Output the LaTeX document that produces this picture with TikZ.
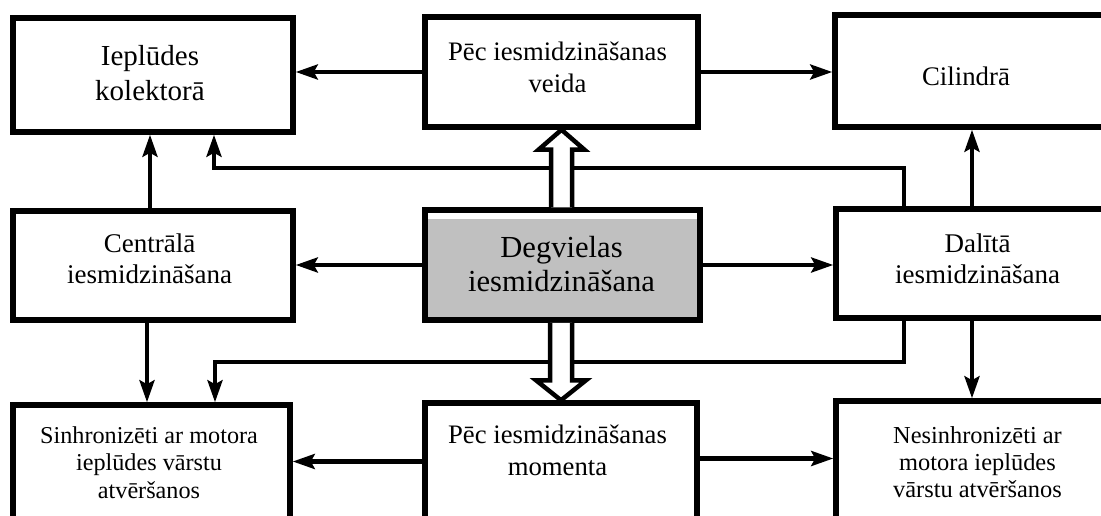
\documentclass[tikz,border=0pt]{standalone}
\usepackage{fontspec}
\setmainfont{Liberation Serif}
\usetikzlibrary{arrows.meta,calc}
\definecolor{degfill}{HTML}{C0C0C0}
\newcommand{\fs}[2]{\fontsize{#1}{#2}\selectfont}
\tikzset{
  box/.style={draw, rectangle, line width=5.5pt, fill=white, inner sep=0pt},
  lbl/.style={align=center, inner sep=0pt},
  conn/.style={line width=4.2pt, -{Stealth[length=22pt,width=15pt,inset=4pt]}},
  hollow/.style={draw, line width=4.5pt, fill=white, line join=miter},
}
\begin{document}
\begin{tikzpicture}[x=1pt, y=-1pt]
\useasboundingbox (0,0) rectangle (1101,516);
\clip (0,0) rectangle (1101,516);
\fill[white] (0,0) rectangle (1101,516);

% boxes
\node[box, minimum width=280pt, minimum height=114pt] (kol) at (153,75) {};
\node[box, minimum width=273pt, minimum height=110pt] (veida) at (561.5,72) {};
\node[box, minimum width=290pt, minimum height=112pt] (cil) at (980,71) {};
\node[box, minimum width=280pt, minimum height=109pt] (cen) at (153,265.5) {};
\node[box, minimum width=275pt, minimum height=110pt,
      path picture={\fill[degfill] ($(path picture bounding box.north west)+(0,8.5)$)
                     rectangle (path picture bounding box.south east);}] (deg) at (562.5,265) {};
\node[box, minimum width=289pt, minimum height=109pt] (dal) at (980.5,263.5) {};
\node[box, minimum width=277pt, minimum height=125pt] (sinh) at (151.5,467.5) {};
\node[box, minimum width=272pt, minimum height=127pt] (mom) at (561,466.5) {};
\node[box, minimum width=289pt, minimum height=129pt] (nes) at (980.5,465.5) {};

% labels
\node[lbl, font=\fs{29}{35}] (kolT) at (150,72.6) {Ieplūdes\\kolektorā};
\node[lbl, font=\fs{26.7}{32}] (veidaT) at (557.5,66.9) {Pēc iesmidzināšanas\\veida};
\node[lbl, font=\fs{26.8}{32}] (cilT) at (966,75.9) {Cilindrā};
\node[lbl, font=\fs{27}{31}] (cenT) at (149.5,258.3) {Centrālā\\iesmidzināšana};
\node[lbl, font=\fs{30.6}{34}] (degT) at (561.5,264.5) {Degvielas\\iesmidzināšana};
\node[lbl, font=\fs{27}{31}] (dalT) at (977.5,258.3) {Dalītā\\iesmidzināšana};
\node[lbl, font=\fs{24.2}{27.5}] (sinhT) at (149,462.3) {Sinhronizēti ar motora\\ieplūdes vārstu\\atvēršanos};
\node[lbl, font=\fs{26.7}{32}] (momT) at (557.5,449.9) {Pēc iesmidzināšanas\\momenta};
\node[lbl, font=\fs{24.4}{27}] (nesT) at (977.5,461.7) {Nesinhronizēti ar\\motora ieplūdes\\vārstu atvēršanos};

% bus levels
\coordinate (busU) at (0,168);
\coordinate (busL) at (0,362);

% connectors
\draw[conn] (veida.west) -- (veida.west -| kol.east);
\draw[conn] (veida.east) -- (veida.east -| cil.west);
\draw[conn] (deg.west) -- (deg.west -| cen.east);
\draw[conn] (deg.east) -- (deg.east -| dal.west);
\draw[conn] ([yshift=5pt]mom.west) -- ([yshift=5pt]mom.west -| sinh.east);
\draw[conn] ([yshift=8pt]mom.east) -- ([yshift=8pt]mom.east -| nes.west);
\draw[conn] ([xshift=-3pt]cen.north) -- ([xshift=-3pt]cen.north |- kol.south);
\draw[conn] ([xshift=-6pt]cen.south) -- ([xshift=-6pt]cen.south |- sinh.north);
\draw[conn] ([xshift=-8.5pt]dal.north) -- ([xshift=-8.5pt]dal.north |- cil.south);
\draw[conn] ([xshift=-8.5pt]dal.south) -- ([xshift=-8.5pt]dal.south |- nes.north);
\draw[conn] ([xshift=-76.5pt]dal.north) |- ([xshift=61pt]kol.south |- busU) -- ([xshift=61pt]kol.south);
\draw[conn] ([xshift=-76.5pt]dal.south) |- ([xshift=63.5pt]sinh.north |- busL) -- ([xshift=63.5pt]sinh.north);

% hollow double arrows
\draw[hollow] ($(veida.south |- deg.north)+(-10.5,0)$) -- ($(veida.south)+(-10.5,20)$)
  -- ($(veida.south)+(-23,20)$) -- (veida.south) -- ($(veida.south)+(23,20)$)
  -- ($(veida.south)+(10.5,20)$) -- ($(veida.south |- deg.north)+(10.5,0)$);
\draw[hollow] ($(mom.north |- deg.south)+(-11,0)$) -- ($(mom.north)+(-11,-20)$)
  -- ($(mom.north)+(-25,-20)$) -- (mom.north) -- ($(mom.north)+(25,-20)$)
  -- ($(mom.north)+(11,-20)$) -- ($(mom.north |- deg.south)+(11,0)$);
\end{tikzpicture}
\end{document}
